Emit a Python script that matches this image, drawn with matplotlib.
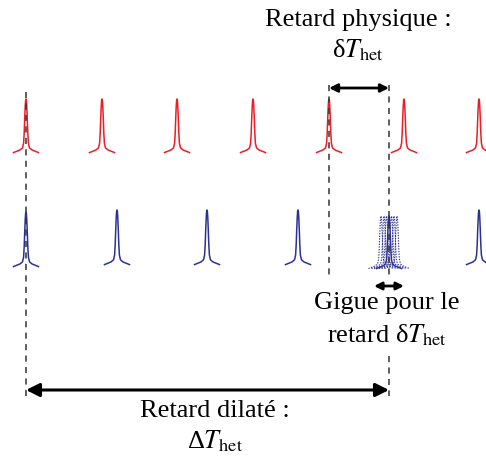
"""
Schema : retard physique vs retard dilate entre deux trains d'impulsions.
Sortie : out.png
"""

import matplotlib
matplotlib.use("Agg")
import matplotlib.pyplot as plt

plt.rcParams["font.family"] = ["Liberation Serif"]
plt.rcParams["mathtext.fontset"] = "stix"

# positions (px) des impulsions
centres_rouge = [26, 102, 177, 253, 329, 404, 479]
centres_bleu = [26, 117, 207, 298, 479]
centre_gigue = 389
decalages_gigue = [-8, -5, -2.5, 2.5, 5, 8]

base_rouge, haut_rouge = 151, 52
base_bleu, haut_bleu = 263, 53

# profil d'une impulsion (ecart en px, fraction de la hauteur)
profil_dx = [-12.5, -6, -3.5, -2.4, -1.8, -1.3, -0.8, -0.4, 0,
             0.4, 0.8, 1.3, 1.8, 2.4, 3.5, 6, 12.5]
profil_h = [-0.03, 0.02, 0.06, 0.15, 0.35, 0.62, 0.85, 0.97, 1.0,
            0.97, 0.85, 0.62, 0.35, 0.15, 0.06, 0.02, -0.03]

# lignes de repere verticales (x, y debut, y fin)
reperes = [(26, 92, 396), (329, 85, 275), (389, 85, 278), (389, 356, 396)]


def impulsion(ax, xc, base, haut, **kw):
    xs = [xc + d for d in profil_dx]
    ys = [base - haut * h for h in profil_h]
    ax.plot(xs, ys, **kw)


def fleche(ax, x0, x1, y, lw, ms):
    ax.annotate("", xy=(x1, y), xytext=(x0, y),
                arrowprops=dict(arrowstyle="<|-|>", color="black", lw=lw,
                                mutation_scale=ms, shrinkA=0, shrinkB=0))


fig = plt.figure(figsize=(4.86, 4.62), dpi=100)
ax = fig.add_axes([0, 0, 1, 1])
ax.set_xlim(0, 486)
ax.set_ylim(462, 0)
ax.axis("off")

for x in centres_rouge:
    impulsion(ax, x, base_rouge, haut_rouge, color="#ee1c25", lw=1.1)
for x in centres_bleu:
    impulsion(ax, x, base_bleu + (2 if x == 26 else 0), haut_bleu,
              color="#2e3192", lw=1.1)
for d in decalages_gigue:
    impulsion(ax, centre_gigue + d, base_bleu + 4, haut_bleu - 2,
              color="#2e3192", lw=0.8, ls=(0, (1.2, 1.2)))
impulsion(ax, centre_gigue, base_bleu + 4, haut_bleu - 2,
          color="#2e3192", lw=1.1)

for x, y0, y1 in reperes:
    ax.plot([x, x], [y0, y1], color="#333333", lw=1.1, ls=(0, (4, 3.5)),
            zorder=3)

fleche(ax, 329, 389, 88, 2.0, 12)
fleche(ax, 374, 404, 286, 2.0, 11)
fleche(ax, 26, 389, 390, 2.2, 20)

fs = 19
ax.text(358, 20, "Retard physique :", fontsize=fs, ha="center", va="center")
ax.text(358, 50, r"δ$T_{\mathrm{het}}$", fontsize=fs,
        ha="center", va="center")
ax.text(387, 303, "Gigue pour le", fontsize=fs, ha="center", va="center")
ax.text(387, 335, r"retard δ$T_{\mathrm{het}}$", fontsize=fs,
        ha="center", va="center")
ax.text(215, 411, "Retard dilaté :", fontsize=fs, ha="center", va="center")
ax.text(215, 441, r"Δ$T_{\mathrm{het}}$", fontsize=fs,
        ha="center", va="center")

fig.savefig("out.png", dpi=100)
